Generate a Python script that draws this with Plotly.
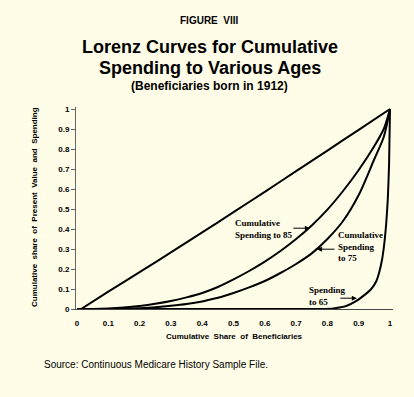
import plotly.graph_objects as go

# ---- data ----
diag_x = [0.013, 0.1, 0.2, 0.3, 0.4, 0.5, 0.6, 0.7, 0.8, 0.9, 1.0]
diag_y = [0.0, 0.087, 0.184, 0.283, 0.383, 0.484, 0.586, 0.689, 0.792, 0.896, 1.0]

cum85_x = [0.0, 0.05, 0.1, 0.15, 0.2, 0.25, 0.3, 0.35, 0.4, 0.45, 0.5, 0.55, 0.6, 0.65,
           0.7, 0.75, 0.8, 0.85, 0.9, 0.95, 0.98, 1.0]
cum85_y = [0.0, 0.0, 0.002, 0.007, 0.015, 0.026, 0.04, 0.058, 0.08, 0.11, 0.148, 0.19,
           0.237, 0.29, 0.35, 0.418, 0.497, 0.59, 0.695, 0.815, 0.9, 1.0]

cum75_x = [0.0, 0.15, 0.2, 0.25, 0.3, 0.35, 0.4, 0.45, 0.5, 0.55, 0.6, 0.65, 0.7, 0.75,
           0.8, 0.85, 0.9, 0.95, 0.98, 1.0]
cum75_y = [0.0, 0.0, 0.004, 0.009, 0.016, 0.025, 0.038, 0.056, 0.08, 0.108, 0.14, 0.18,
           0.225, 0.278, 0.35, 0.44, 0.57, 0.75, 0.86, 1.0]

cum65_x = [0.0, 0.78, 0.82, 0.86, 0.89, 0.92, 0.94, 0.955, 0.965, 0.975, 0.982, 0.988,
           0.993, 0.997, 1.0]
cum65_y = [0.0, 0.0, 0.003, 0.015, 0.038, 0.072, 0.1, 0.135, 0.18, 0.25, 0.33, 0.43,
           0.55, 0.72, 1.0]

tick_vals = [0, 0.1, 0.2, 0.3, 0.4, 0.5, 0.6, 0.7, 0.8, 0.9, 1]
tick_text = ["0", "0.1", "0.2", "0.3", "0.4", "0.5", "0.6", "0.7", "0.8", "0.9", "1"]

BG = "rgb(255,253,232)"
SANS = "Liberation Sans, Arial, sans-serif"
SERIF = "Liberation Serif, Times New Roman, serif"
NB = "\u00a0"

fig = go.Figure()
for xs, ys, sm in [(diag_x, diag_y, 0.6), (cum85_x, cum85_y, 0.8),
                   (cum75_x, cum75_y, 0.8), (cum65_x, cum65_y, 0.5)]:
    fig.add_trace(go.Scatter(x=xs, y=ys, mode="lines",
                             line=dict(color="black", width=2, shape="spline", smoothing=sm),
                             showlegend=False, hoverinfo="skip"))

fig.update_layout(
    width=414, height=397,
    margin=dict(l=76, r=21, t=107, b=88),
    paper_bgcolor=BG, plot_bgcolor=BG,
    showlegend=False,
    xaxis=dict(range=[-0.0032, 1.0096], tickvals=tick_vals, ticktext=tick_text,
               showgrid=False, zeroline=False, showline=True, linecolor="#444", linewidth=1,
               ticks="", ticklabelstandoff=6,
               tickfont=dict(family=SANS, size=8, color="black", weight="bold")),
    yaxis=dict(range=[0, 1.01], tickvals=tick_vals, ticktext=tick_text,
               showgrid=False, zeroline=False, showline=True, linecolor="#666", linewidth=1,
               ticks="outside", ticklen=4, tickcolor="#666",
               tickfont=dict(family=SANS, size=8, color="black", weight="bold")),
)

def ann(text, x, y, size, family=SANS, bold=True, xanchor="center", yanchor="middle",
        xref="paper", yref="paper", align="center", angle=0):
    fig.add_annotation(text=text, x=x, y=y, xref=xref, yref=yref, showarrow=False,
                       xanchor=xanchor, yanchor=yanchor, align=align, textangle=angle,
                       font=dict(family=family, size=size, color="black",
                                 weight="bold" if bold else "normal"))

# titles
ann("FIGURE" + NB * 2 + "VIII", 0.4227, 1.427, 10)
ann("Lorenz Curves for Cumulative", 0.4227, 1.2985, 18)
ann("Spending to Various Ages", 0.4227, 1.1916, 18)
ann("(Beneficiaries born in 1912)", 0.4227, 1.104, 12)

# axis titles
ann(NB.join(["Cumulative", "", "Share", "", "of", "", "Beneficiaries"]), 0.5, -0.1337, 8)
ann(NB.join(["Cumulative", "", "share", "", "of", "", "Present", "", "Value", "", "and", "", "Spending"]),
    -0.1293, 0.505, 8, angle=-90)

# source
ann("Source: Continuous Medicare History Sample File.", -0.108, -0.2738, 10,
    bold=False, xanchor="left")

# curve labels
ann("Cumulative<br>Spending to 85", 0.497, 0.40, 9, family=SERIF, xanchor="left",
    xref="x", yref="y", align="left")
ann("Cumulative<br>Spending<br>to 75", 0.827, 0.315, 9, family=SERIF, xanchor="left",
    xref="x", yref="y", align="left")
ann("Spending<br>to 65", 0.735, 0.065, 9, family=SERIF, xanchor="left",
    xref="x", yref="y", align="left")

# arrows
for tx, ty, dx in [(0.744, 0.404, -18), (0.767, 0.299, 19), (0.894, 0.054, -18)]:
    fig.add_annotation(x=tx, y=ty, xref="x", yref="y", text="", showarrow=True,
                       ax=dx, ay=0, arrowhead=2, arrowsize=1, arrowwidth=1,
                       arrowcolor="black")

post = ("document.body.style.margin='0';document.body.style.padding='0';"
        "document.body.style.background='" + BG + "';"
        "document.documentElement.style.background='" + BG + "';")
fig.write_html("out.html", post_script=post, config={"displayModeBar": False})
